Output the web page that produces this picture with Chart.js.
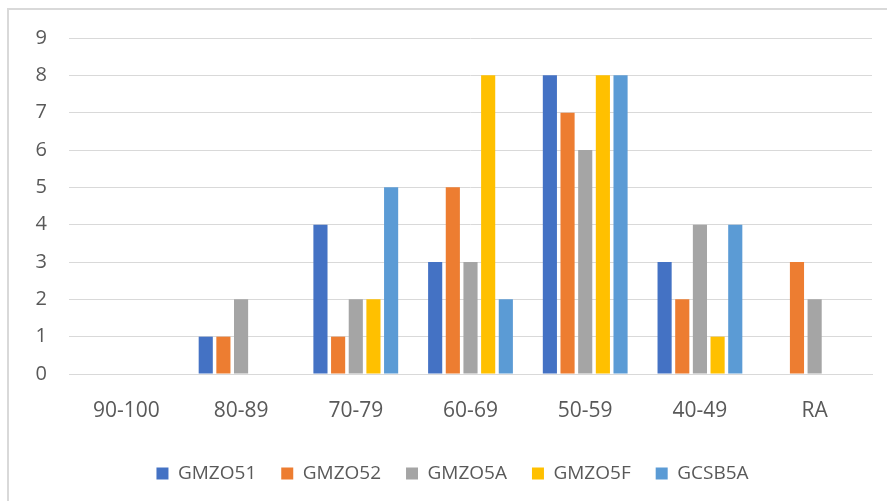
<!DOCTYPE html>
<html>
<head>
<meta charset="utf-8">
<script src="https://cdn.jsdelivr.net/npm/chart.js@4/dist/chart.umd.min.js"></script>
<style>
  html, body { margin: 0; padding: 0; background: #fff; overflow: hidden; }
  #wrap { position: relative; width: 887px; height: 501px; }
  #frame { position: absolute; left: 7px; top: 8px; width: 960px; height: 560px; border: 2px solid #d9d9d9; box-sizing: border-box; }
  #c { position: absolute; left: 0; top: 0; }
</style>
</head>
<body>
<div id="wrap">
  <div id="frame"></div>
  <canvas id="c" width="887" height="501"></canvas>
</div>
<script>
// score bands and counts per group
const bands = ['90-100', '80-89', '70-79', '60-69', '50-59', '40-49', 'RA'];
const gmzo51 = [0, 1, 4, 3, 8, 3, 0];
const gmzo52 = [0, 1, 1, 5, 7, 2, 3];
const gmzo5a = [0, 2, 2, 3, 6, 4, 2];
const gmzo5f = [0, 0, 2, 8, 8, 1, 0];
const gcsb5a = [0, 0, 5, 2, 8, 4, 0];

const textColor = '#595959';
const gridColor = '#d9d9d9';

function series(label, data, color) {
    return {
        label: label,
        data: data,
        backgroundColor: color,
        borderWidth: 0,
        categoryPercentage: 0.77,
        barPercentage: 0.8
    };
}

const ctx = document.getElementById('c').getContext('2d');
new Chart(ctx, {
    type: 'bar',
    data: {
        labels: bands,
        datasets: [
            series('GMZO51', gmzo51, '#4472C4'),
            series('GMZO52', gmzo52, '#ED7D31'),
            series('GMZO5A', gmzo5a, '#A5A5A5'),
            series('GMZO5F', gmzo5f, '#FFC000'),
            series('GCSB5A', gcsb5a, '#5B9BD5')
        ]
    },
    options: {
        responsive: false,
        animation: false,
        layout: { padding: { left: 33, right: 15, top: 38, bottom: 8 } },
        plugins: {
            tooltip: { enabled: false },
            legend: {
                position: 'bottom',
                labels: {
                    boxWidth: 12,
                    boxHeight: 12,
                    padding: 25,
                    color: textColor,
                    font: { family: '"Open Sans"', size: 19 }
                }
            }
        },
        scales: {
            x: {
                grid: { display: false, drawTicks: false },
                border: { color: gridColor, width: 1 },
                ticks: { color: textColor, padding: 24, font: { family: '"Open Sans"', size: 21 } },
                afterFit: function (scale) { scale.height = 65; }
            },
            y: {
                min: 0,
                max: 9,
                ticks: { stepSize: 1, color: textColor, padding: 22, font: { family: '"Open Sans"', size: 20 } },
                grid: { color: gridColor, lineWidth: 1, drawTicks: false },
                border: { display: false },
                afterFit: function (scale) { scale.width = 36; }
            }
        }
    }
});
</script>
</body>
</html>
